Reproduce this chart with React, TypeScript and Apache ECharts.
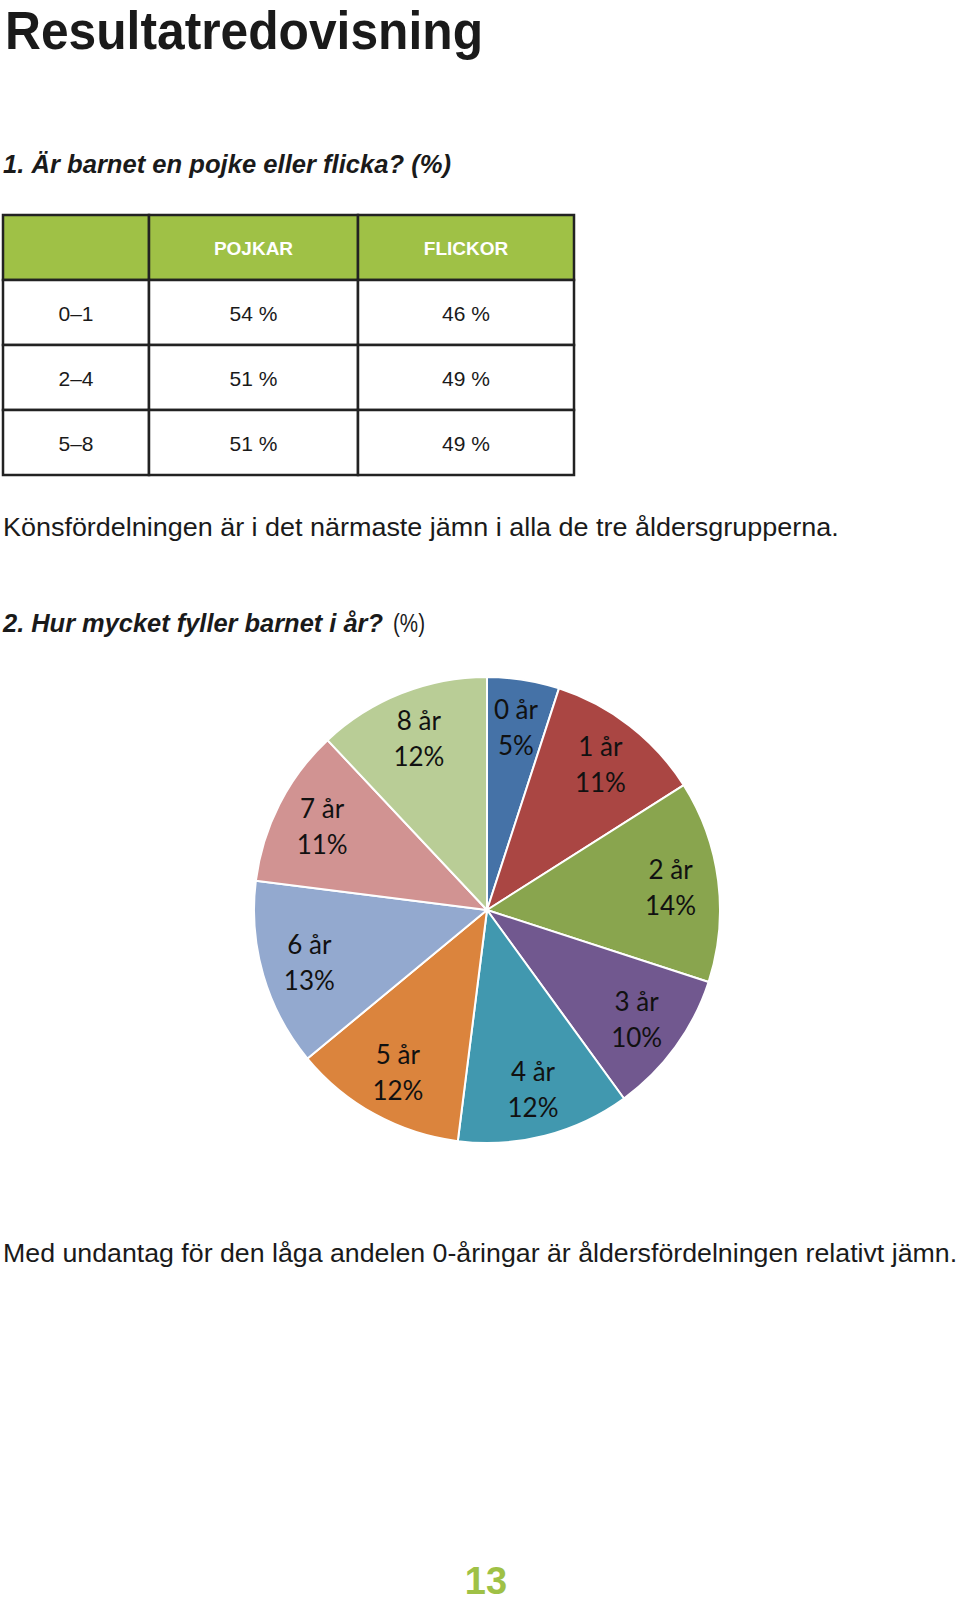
import { useEffect, useRef } from 'react';
import * as echarts from 'echarts';

// ---------- data ----------
const pageTitle = 'Resultatredovisning';
const question1 = '1. Är barnet en pojke eller flicka? (%)';
const tableHeaders = ['', 'POJKAR', 'FLICKOR'];
const ageGroups = ['0–1', '2–4', '5–8'];
const boysPct = [54, 51, 51];
const girlsPct = [46, 49, 49];
const comment1 = 'Könsfördelningen är i det närmaste jämn i alla de tre åldersgrupperna.';
const question2 = '2. Hur mycket fyller barnet i år?';
const question2Unit = '(%)';
const ageNames = ['0 år', '1 år', '2 år', '3 år', '4 år', '5 år', '6 år', '7 år', '8 år'];
const ageShares = [5, 11, 14, 10, 12, 12, 13, 11, 12];
const sliceColors = ['#4572A7', '#AA4643', '#89A54E', '#71588F', '#4198AF', '#DB843D', '#93A9CF', '#D19392', '#B9CD96'];
const comment2 = 'Med undantag för den låga andelen 0-åringar är åldersfördelningen relativt jämn.';
const pageNumber = '13';

// ---------- layout ----------
const SANS = '"Liberation Sans", Arial, sans-serif';
const INK = '#1a1a1a';
const GREEN = '#9fc146';
const colX = [3, 149, 358, 574];
const rowY = [215, 280, 345, 410, 475];
const PIE_CX = 487;
const PIE_CY = 910;
const PIE_R = 233;

let measureCtx: CanvasRenderingContext2D | null = null;
function measure(text: string, size: number, weight: string, style: string, family: string) {
  if (!measureCtx) measureCtx = document.createElement('canvas').getContext('2d');
  if (!measureCtx) return text.length * size * 0.5;
  measureCtx.font = `${style} ${weight} ${size}px ${family}`;
  return measureCtx.measureText(text).width;
}

type TOpts = {
  size: number;
  weight?: string;
  style?: string;
  family?: string;
  fill?: string;
  align?: 'left' | 'center' | 'right';
  width?: number;
};

function textEl(x: number, y: number, text: string, o: TOpts) {
  const weight = o.weight || 'normal';
  const style = o.style || 'normal';
  const family = o.family || SANS;
  let scaleX = 1;
  if (o.width) scaleX = o.width / measure(text, o.size, weight, style, family);
  return {
    type: 'text',
    x,
    y,
    scaleX,
    silent: true,
    style: {
      text,
      fontSize: o.size,
      fontWeight: weight,
      fontStyle: style,
      fontFamily: family,
      fill: o.fill || INK,
      align: o.align || 'left',
      verticalAlign: 'middle',
    },
  };
}

function buildGraphic() {
  const els: any[] = [];
  els.push(textEl(5, 30, pageTitle, { size: 54, weight: 'bold', width: 478 }));
  els.push(textEl(3, 164, question1, { size: 25, weight: 'bold', style: 'italic', width: 448 }));

  // table
  const rows = [tableHeaders, ...ageGroups.map((g, i) => [g, `${boysPct[i]} %`, `${girlsPct[i]} %`])];
  rows.forEach((row, r) => {
    row.forEach((cell, c) => {
      const x0 = colX[c];
      const x1 = colX[c + 1];
      const y0 = rowY[r];
      const y1 = rowY[r + 1];
      els.push({
        type: 'rect',
        silent: true,
        shape: { x: x0, y: y0, width: x1 - x0, height: y1 - y0 },
        style: { fill: r === 0 ? GREEN : '#ffffff', stroke: '#222222', lineWidth: 2.5 },
      });
      if (cell) {
        els.push(
          textEl((x0 + x1) / 2, (y0 + y1) / 2 + 1, cell, {
            size: r === 0 ? 19 : 21,
            weight: r === 0 ? 'bold' : 'normal',
            fill: r === 0 ? '#ffffff' : INK,
            align: 'center',
          })
        );
      }
    });
  });

  els.push(textEl(3, 527, comment1, { size: 25, width: 836 }));
  els.push(textEl(3, 623, question2, { size: 26, weight: 'bold', style: 'italic', width: 380 }));
  els.push(textEl(393, 623, question2Unit, { size: 26, width: 32 }));
  els.push(textEl(3, 1253, comment2, { size: 26, width: 955 }));
  els.push(textEl(486, 1581, pageNumber, { size: 38, weight: 'bold', fill: GREEN, align: 'center' }));
  return els;
}

export default function App() {
  const ref = useRef<HTMLDivElement>(null);

  useEffect(() => {
    document.body.style.margin = '0';
    if (!ref.current) return;
    const chart = echarts.init(ref.current, undefined, { renderer: 'svg' });
    const pieData = ageNames.map((name, i) => ({
      name,
      value: ageShares[i],
      itemStyle: { color: sliceColors[i] },
    }));
    chart.setOption({
      animation: false,
      backgroundColor: '#ffffff',
      graphic: { elements: buildGraphic() },
      series: [
        {
          type: 'pie',
          center: [PIE_CX, PIE_CY],
          radius: [0, PIE_R],
          startAngle: 90,
          clockwise: true,
          silent: true,
          z: 2,
          data: pieData,
          itemStyle: { borderColor: '#ffffff', borderWidth: 2 },
          label: { show: false },
          labelLine: { show: false },
          emphasis: { disabled: true },
        },
        {
          type: 'pie',
          center: [PIE_CX, PIE_CY],
          radius: [131, PIE_R],
          startAngle: 90,
          clockwise: true,
          silent: true,
          z: 3,
          data: ageNames.map((name, i) => ({ name, value: ageShares[i] })),
          itemStyle: { color: 'rgba(0,0,0,0)', borderWidth: 0 },
          label: {
            show: true,
            position: 'inside',
            formatter: (p: any) => `${p.name}\n${p.value}%`,
            fontFamily: 'Lato, "Open Sans", sans-serif',
            fontSize: 26,
            lineHeight: 36,
            color: '#111111',
          },
          labelLine: { show: false },
          emphasis: { disabled: true },
        },
      ],
    });
    return () => chart.dispose();
  }, []);

  return <div ref={ref} style={{ width: 960, height: 1601 }} />;
}
